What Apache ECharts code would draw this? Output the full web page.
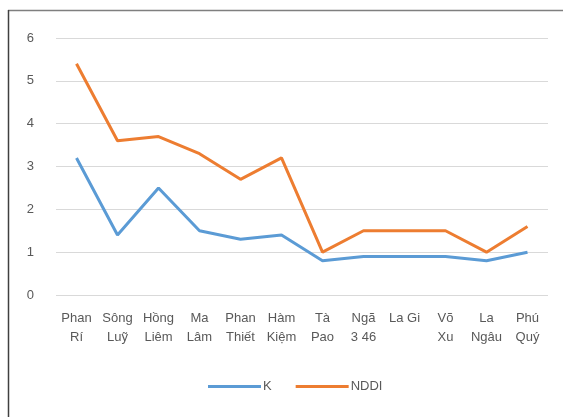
<!DOCTYPE html>
<html><head><meta charset="utf-8">
<script src="https://cdn.jsdelivr.net/npm/echarts@6/dist/echarts.min.js"></script>
<style>html,body{margin:0;padding:0;background:#fff}#c{width:563px;height:417px}</style>
</head><body><div id="c"></div>
<script>
const categories = ['Phan\nRí','Sông\nLuỹ','Hồng\nLiêm','Ma\nLâm','Phan\nThiết','Hàm\nKiệm','Tà\nPao','Ngã\n3 46','La Gi','Võ\nXu','La\nNgâu','Phú\nQuý'];
const kValues = [3.2,1.4,2.5,1.5,1.3,1.4,0.8,0.9,0.9,0.9,0.8,1.0];
const nddiValues = [5.4,3.6,3.7,3.3,2.7,3.2,1.0,1.5,1.5,1.5,1.0,1.6];
const yTicks = [0,1,2,3,4,5,6];

const font = "'Liberation Sans',sans-serif";
const chart = echarts.init(document.getElementById('c'), null, {renderer:'canvas'});
chart.setOption({
  animation:false,
  backgroundColor:'#fff',
  grid:{left:56,right:15,top:38,bottom:122,containLabel:false},
  xAxis:{type:'category',data:categories,boundaryGap:true,
    axisLine:{show:false},axisTick:{show:false},
    axisLabel:{interval:0,color:'#595959',fontSize:13,fontFamily:font,lineHeight:19,margin:14}},
  yAxis:{type:'value',min:yTicks[0],max:yTicks[yTicks.length-1],interval:1,
    axisLine:{show:false},axisTick:{show:false},
    splitLine:{lineStyle:{color:'#d9d9d9',width:1}},
    axisLabel:{color:'#595959',fontSize:13,fontFamily:font,margin:22}},
  legend:{bottom:19,left:203,itemWidth:53,itemHeight:3,itemGap:24,icon:'rect',
    textStyle:{color:'#595959',fontSize:13,fontFamily:font,padding:[0,0,0,-3]},
    data:['K','NDDI']},
  series:[
    {name:'K',type:'line',data:kValues,symbol:'none',lineStyle:{color:'#5B9BD5',width:3},itemStyle:{color:'#5B9BD5'}},
    {name:'NDDI',type:'line',data:nddiValues,symbol:'none',lineStyle:{color:'#ED7D31',width:3},itemStyle:{color:'#ED7D31'}}
  ],
  graphic:[
    {type:'line',shape:{x1:8,y1:10.5,x2:563,y2:10.5},style:{stroke:'#7f7f7f',lineWidth:1.5}},
    {type:'line',shape:{x1:8.5,y1:10,x2:8.5,y2:417},style:{stroke:'#404040',lineWidth:1.5}}
  ]
});
</script></body></html>
